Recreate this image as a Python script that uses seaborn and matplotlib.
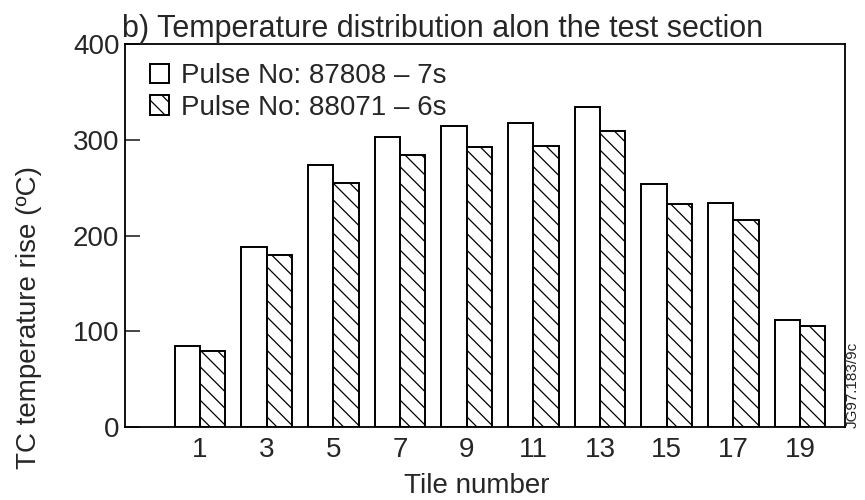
import matplotlib
matplotlib.use("Agg")
import matplotlib.pyplot as plt
import seaborn as sns
import pandas as pd

tiles = ["1", "3", "5", "7", "9", "11", "13", "15", "17", "19"]
pulse_a = [85, 188, 274, 303, 314, 317, 334, 254, 234, 112]
pulse_b = [79, 180, 255, 284, 292, 293, 309, 233, 216, 106]
series_names = ["Pulse No: 87808 \u2013 7s", "Pulse No: 88071 \u2013 6s"]
y_ticks = [0, 100, 200, 300, 400]

df = pd.DataFrame({
    "tile": tiles * 2,
    "value": pulse_a + pulse_b,
    "pulse": [series_names[0]] * len(tiles) + [series_names[1]] * len(tiles),
})

sns.set_style("ticks")
plt.rcParams["font.family"] = ["Liberation Sans", "DejaVu Sans"]
plt.rcParams["hatch.linewidth"] = 0.9
plt.rcParams["hatch.color"] = "black"

fig = plt.figure(figsize=(8.65, 5.0), dpi=100)
ax = fig.add_axes([125 / 865, 73 / 500, 720 / 865, 383 / 500])

sns.barplot(data=df, x="tile", y="value", hue="pulse", order=tiles,
            hue_order=series_names, palette=["white", "white"], saturation=1,
            edgecolor="black", linewidth=1.4, width=0.76, legend=False, ax=ax)

for p in ax.containers[1]:
    p.set_hatch("\\\\")

ax.set_xlim(-1.125, 9.675)
ax.set_ylim(0, 400)
ax.set_yticks(y_ticks)
ax.tick_params(axis="y", direction="in", length=11, width=1.2, labelsize=20, pad=4)
ax.tick_params(axis="x", length=0, labelsize=20, pad=7)
for s in ax.spines.values():
    s.set_visible(True)
    s.set_linewidth(1.3)
    s.set_color("black")

ax.set_xlabel("Tile number", fontsize=20)
ax.set_ylabel("TC temperature rise (\u00baC)", fontsize=20)
ax.xaxis.set_label_coords(0.489, -0.12)
ax.yaxis.set_label_coords(-0.115, 0.287)

ax.text(-0.004, 1.0, "b) Temperature distribution alon the test section",
        transform=ax.transAxes, ha="left", va="bottom", fontsize=22)

ax.legend(handles=[ax.containers[0], ax.containers[1]], labels=series_names,
          loc="upper left", bbox_to_anchor=(0.0, 1.015), frameon=False,
          fontsize=20, handlelength=0.7, handleheight=0.7, handletextpad=0.4,
          labelspacing=0.2, borderaxespad=0.5)

fig.text(0.986, 0.23, "JG97.183/9c", rotation=90, ha="center", va="center", fontsize=11)

fig.savefig("out.png", dpi=100)
